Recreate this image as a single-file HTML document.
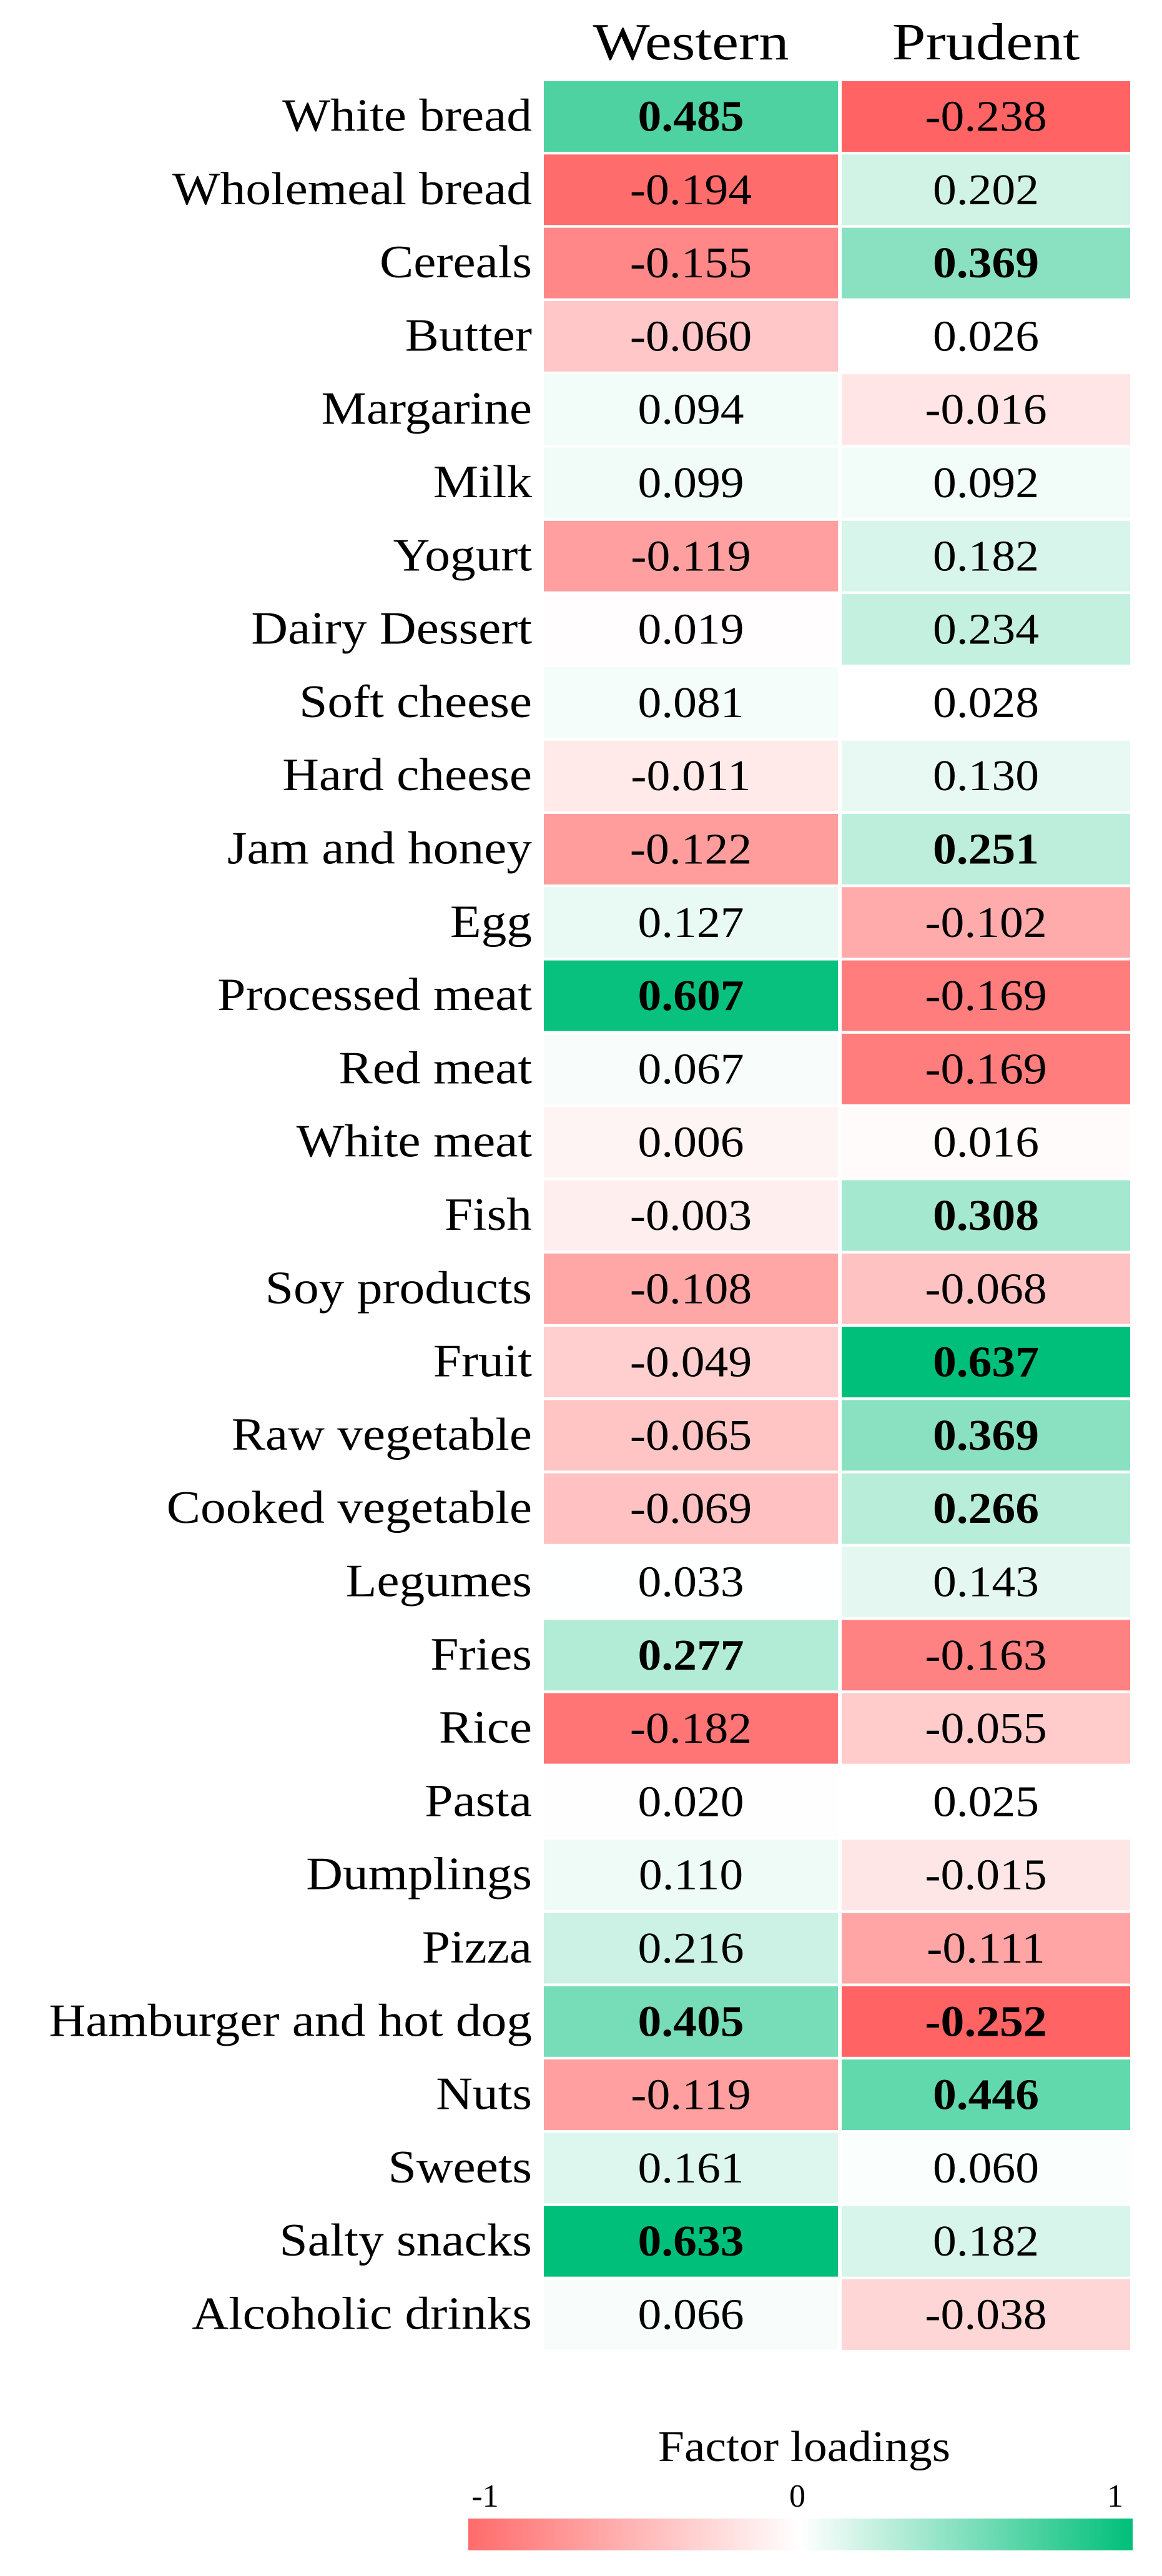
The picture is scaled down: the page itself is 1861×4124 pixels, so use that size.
<!DOCTYPE html>
<html><head><meta charset="utf-8">
<style>
html,body{margin:0;padding:0;background:#fff;}
svg{display:block;}
text{font-family:"Liberation Serif",serif;fill:#000;}
</style></head>
<body>
<svg id="chart" width="1861" height="4124" viewBox="0 0 1861 4124" xmlns="http://www.w3.org/2000/svg">
<defs>
<linearGradient id="lg" x1="0" x2="1" y1="0" y2="0">
<stop offset="0" stop-color="#ff6b6b"/>
<stop offset="0.5" stop-color="#ffffff"/>
<stop offset="1" stop-color="#00bf7a"/>
</linearGradient>
</defs>
<g id="cells"></g>
<text x="1288" y="3940" font-size="70" text-anchor="middle" transform="translate(1288,0) scale(1.08,1) translate(-1288,0)">Factor loadings</text>
<text x="777" y="4013" font-size="52" text-anchor="middle">-1</text>
<text x="1277" y="4013" font-size="52" text-anchor="middle">0</text>
<text x="1786" y="4013" font-size="52" text-anchor="middle">1</text>
<rect x="750" y="4032" width="1064" height="51" fill="url(#lg)"/>
</svg>
<script>
const categories = ["White bread","Wholemeal bread","Cereals","Butter","Margarine","Milk","Yogurt","Dairy Dessert","Soft cheese","Hard cheese","Jam and honey","Egg","Processed meat","Red meat","White meat","Fish","Soy products","Fruit","Raw vegetable","Cooked vegetable","Legumes","Fries","Rice","Pasta","Dumplings","Pizza","Hamburger and hot dog","Nuts","Sweets","Salty snacks","Alcoholic drinks"];
const seriesNames = ["Western","Prudent"];
const western = [0.485,-0.194,-0.155,-0.060,0.094,0.099,-0.119,0.019,0.081,-0.011,-0.122,0.127,0.607,0.067,0.006,-0.003,-0.108,-0.049,-0.065,-0.069,0.033,0.277,-0.182,0.020,0.110,0.216,0.405,-0.119,0.161,0.633,0.066];
const prudent = [-0.238,0.202,0.369,0.026,-0.016,0.092,0.182,0.234,0.028,0.130,0.251,-0.102,-0.169,-0.169,0.016,0.308,-0.068,0.637,0.369,0.266,0.143,-0.163,-0.055,0.025,-0.015,-0.111,-0.252,0.446,0.060,0.182,-0.038];

const NS="http://www.w3.org/2000/svg";
const svg=document.getElementById('chart');
const g=document.getElementById('cells');
const colX=[871,1348], colW=[471,462];
const rowTop0=130, pitch=117.3, cellH=113;
function yOf(i){return rowTop0+i*pitch;}
function color(v){
  const d=v-0.022;
  let r,gg,b;
  if(d>=0){const t=Math.min(1,Math.pow(d/0.6,1.4));
    r=255+(0-255)*t; gg=255+(191-255)*t; b=255+(122-255)*t;}
  else{const t=Math.min(1,-d/0.23);
    r=255; gg=255+(99-255)*t; b=255+(99-255)*t;}
  return `rgb(${Math.round(r)},${Math.round(gg)},${Math.round(b)})`;
}
function mk(tag,attrs){const e=document.createElementNS(NS,tag);for(const k in attrs)e.setAttribute(k,attrs[k]);return e;}
function sx(x,s){return `translate(${x},0) scale(${s},1) translate(${-x},0)`;}
seriesNames.forEach((s,j)=>{
  const cx=colX[j]+colW[j]/2;
  const t=mk('text',{x:cx,y:95,'font-size':84,'text-anchor':'middle',transform:sx(cx,1.15)});
  t.textContent=s;
  
  
  svg.appendChild(t);
});
categories.forEach((c,i)=>{
  const y=yOf(i);
  const lab=mk('text',{x:852,y:y+cellH/2+23,'font-size':74,'text-anchor':'end',transform:sx(852,1.1)});
  lab.textContent=c;
  
  
  g.appendChild(lab);
  [western,prudent].forEach((arr,j)=>{
    const v=arr[i];
    const r=mk('rect',{x:colX[j],y:y,width:colW[j],height:cellH,fill:color(v)});
    
    
    g.appendChild(r);
    const cx=colX[j]+colW[j]/2;
    const t=mk('text',{x:cx,y:y+cellH/2+23,'font-size':70,'text-anchor':'middle',transform:sx(cx,1.08)});
    if(Math.abs(v)>=0.25) t.setAttribute('font-weight','bold');
    t.textContent=v.toFixed(3);
    
    
    g.appendChild(t);
  });
});
</script>
</body></html>
